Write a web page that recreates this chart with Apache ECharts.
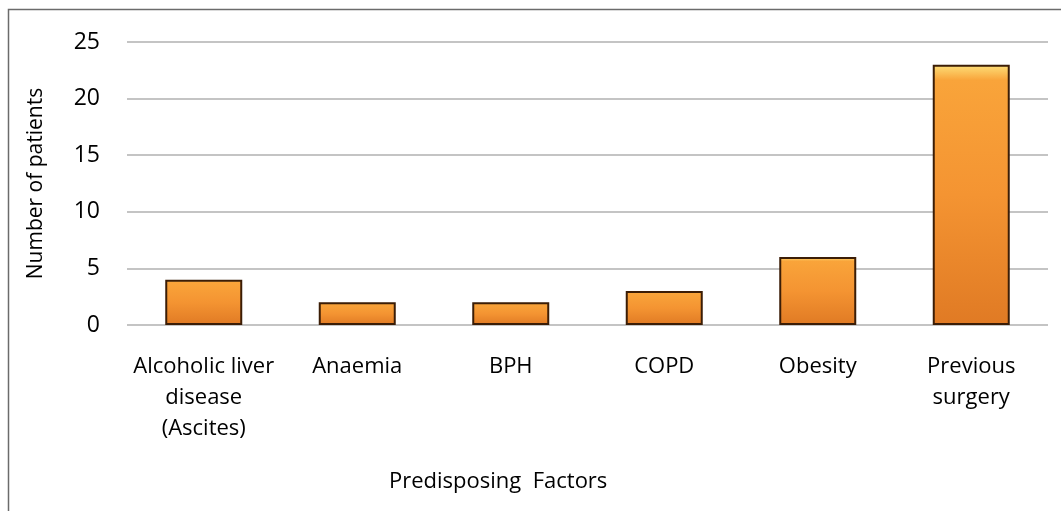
<!DOCTYPE html>
<html><head><meta charset="utf-8">
<script src="https://cdn.jsdelivr.net/npm/echarts@6/dist/echarts.min.js"></script>
<style>html,body{margin:0;padding:0;background:#fff}#c{width:1061px;height:511px}</style>
</head><body><div id="c"></div>
<script>
const categories = ["Alcoholic liver\ndisease\n(Ascites)", "Anaemia", "BPH", "COPD", "Obesity", "Previous\nsurgery"];
const patients = [4, 2, 2, 3, 6, 23];
const yTicks = [0, 5, 10, 15, 20, 25];
const yTitle = "Number of patients";
const xTitle = "Predisposing  Factors";

const FONT = "Open Sans";
const chart = echarts.init(document.getElementById('c'));
chart.setOption({
  animation: false,
  grid: {left: 127, right: 13, top: 42, bottom: 186, containLabel: false},
  graphic: [
    {type: 'rect', shape: {x: 8.5, y: 9.5, width: 1100, height: 600}, style: {fill: 'none', stroke: '#6b6b6b', lineWidth: 1.5}, silent: true},
    {type: 'text', left: 389, top: 471, style: {text: xTitle, font: '22px "Open Sans"', fill: '#000'}}
  ],
  xAxis: {
    type: 'category', data: categories,
    axisLine: {show: false}, axisTick: {show: false},
    axisLabel: {color: '#000', fontFamily: FONT, fontSize: 22, lineHeight: 31, margin: 26, interval: 0}
  },
  yAxis: {
    type: 'value', min: yTicks[0], max: yTicks[yTicks.length-1], interval: 5,
    name: yTitle, nameLocation: 'middle', nameGap: 80, nameRotate: 90,
    nameTextStyle: {color: '#000', fontFamily: FONT, fontSize: 21},
    axisLine: {show: false}, axisTick: {show: false},
    axisLabel: {color: '#000', fontFamily: FONT, fontSize: 23, margin: 27},
    splitLine: {lineStyle: {color: '#c4c4c4', width: 2}}
  },
  series: [{
    type: 'bar', data: patients, barWidth: 77,
    itemStyle: {
      borderColor: '#3b1d06', borderWidth: 2,
      color: {type: 'linear', x: 0, y: 0, x2: 0, y2: 1, colorStops: [
        {offset: 0, color: '#fde07a'},
        {offset: 0.06, color: '#f9a43a'},
        {offset: 0.5, color: '#f49432'},
        {offset: 1, color: '#e07a24'}
      ]}
    }
  }]
});
</script></body></html>
